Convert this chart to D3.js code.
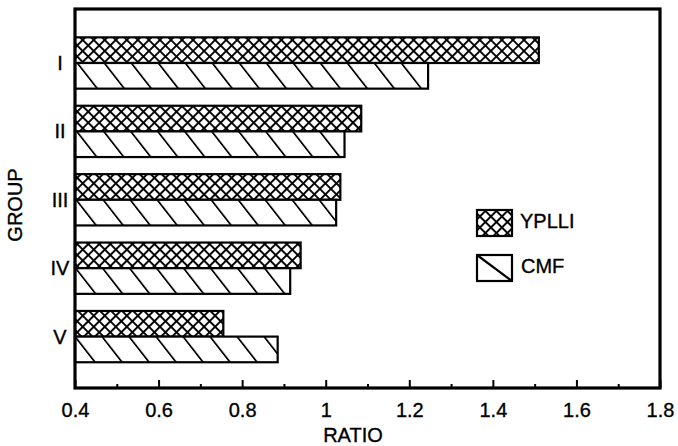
<!DOCTYPE html>
<html>
<head>
<meta charset="utf-8">
<script src="https://cdn.jsdelivr.net/npm/d3@7"></script>
<style>
  body { margin: 0; background: #fff; }
  svg { display: block; font-family: "Liberation Sans", Arial, sans-serif; }
  svg text { stroke: #000; stroke-width: 0.35px; }
</style>
</head>
<body>
<div id="chart"></div>
<script>
// data
const groups = ['I', 'II', 'III', 'IV', 'V'];
const series = ['YPLLI', 'CMF'];
const ypllI = [1.51, 1.085, 1.035, 0.94, 0.755];
const cmf = [1.245, 1.045, 1.025, 0.915, 0.885];
const majorTicks = [0.4, 0.6, 0.8, 1.0, 1.2, 1.4, 1.6, 1.8];
const tickLabels = ['0.4', '0.6', '0.8', '1', '1.2', '1.4', '1.6', '1.8'];
const minorTicks = [0.5, 0.7, 0.9, 1.1, 1.3, 1.5, 1.7];

const width = 678, height = 446;
const plotLeft = 75, plotRight = 660, plotTop = 9, plotBottom = 388;

const svg = d3.select('#chart')
  .append('svg')
  .attr('width', width)
  .attr('height', height);

// patterns
const defs = svg.append('defs');

const cross = defs.append('pattern')
  .attr('id', 'cross')
  .attr('patternUnits', 'userSpaceOnUse')
  .attr('width', 7.8)
  .attr('height', 7.8)
  .attr('patternTransform', 'rotate(45)');
cross.append('rect').attr('width', 7.8).attr('height', 7.8).attr('fill', '#fff');
cross.append('line').attr('x1', 0).attr('y1', 0).attr('x2', 7.8).attr('y2', 0)
  .attr('stroke', '#000').attr('stroke-width', 3.8);
cross.append('line').attr('x1', 0).attr('y1', 0).attr('x2', 0).attr('y2', 7.8)
  .attr('stroke', '#000').attr('stroke-width', 3.8);

const hatch = defs.append('pattern')
  .attr('id', 'hatch')
  .attr('patternUnits', 'userSpaceOnUse')
  .attr('width', 27)
  .attr('height', 10)
  .attr('patternTransform', 'skewX(38)');
hatch.append('rect').attr('width', 27).attr('height', 10).attr('fill', '#fff');
hatch.append('line').attr('x1', 1).attr('y1', -1).attr('x2', 1).attr('y2', 11)
  .attr('stroke', '#000').attr('stroke-width', 2.4);

const fills = { YPLLI: 'url(#cross)', CMF: 'url(#hatch)' };

// scales
const x = d3.scaleLinear().domain([0.4, 1.8]).range([plotLeft, plotRight]);
const y = d3.scaleBand().domain(groups).range([28.8, 370.8])
  .paddingInner(0.25).paddingOuter(0.125);
const ySub = d3.scaleBand().domain(series).range([0, y.bandwidth()]);

const rows = [];
groups.forEach((g, i) => {
  rows.push({ group: g, key: 'YPLLI', value: ypllI[i] });
  rows.push({ group: g, key: 'CMF', value: cmf[i] });
});

// bars
svg.append('g')
  .selectAll('rect')
  .data(rows)
  .enter()
  .append('rect')
  .attr('x', x(0.4))
  .attr('y', d => y(d.group) + ySub(d.key))
  .attr('width', d => x(d.value) - x(0.4))
  .attr('height', ySub.bandwidth())
  .attr('fill', d => fills[d.key])
  .attr('stroke', '#000')
  .attr('stroke-width', 2.2);

// minor ticks
svg.append('g')
  .attr('transform', `translate(0,${plotBottom})`)
  .call(d3.axisBottom(x).tickValues(minorTicks).tickSize(-4).tickFormat(''))
  .call(g => g.select('.domain').remove())
  .call(g => g.selectAll('line').attr('stroke-width', 2));

// major ticks + labels
svg.append('g')
  .attr('transform', `translate(0,${plotBottom})`)
  .call(d3.axisBottom(x).tickValues(majorTicks).tickSize(-8).tickPadding(15)
    .tickFormat((d, i) => tickLabels[i]))
  .call(g => g.select('.domain').remove())
  .call(g => g.selectAll('line').attr('stroke-width', 2))
  .call(g => g.selectAll('text')
    .attr('font-size', 20)
    .attr('font-family', '"Liberation Sans", Arial, sans-serif')
    .attr('fill', '#000'));

// frame
svg.append('rect')
  .attr('x', plotLeft)
  .attr('y', plotTop)
  .attr('width', plotRight - plotLeft)
  .attr('height', plotBottom - plotTop)
  .attr('fill', 'none')
  .attr('stroke', '#000')
  .attr('stroke-width', 3.2);

// group labels
svg.append('g')
  .selectAll('text')
  .data(groups)
  .enter()
  .append('text')
  .attr('x', 60)
  .attr('y', d => y(d) + y.bandwidth() / 2)
  .attr('dy', '0.35em')
  .attr('text-anchor', 'middle')
  .attr('font-size', 20)
  .text(d => d);

// axis titles
svg.append('text')
  .attr('x', 353)
  .attr('y', 442)
  .attr('text-anchor', 'middle')
  .attr('font-size', 20)
  .text('RATIO');

svg.append('text')
  .attr('transform', 'translate(22,205) rotate(-90)')
  .attr('text-anchor', 'middle')
  .attr('font-size', 20)
  .text('GROUP');

// legend
const legend = svg.append('g');
legend.append('rect')
  .attr('x', 477).attr('y', 210).attr('width', 35).attr('height', 26)
  .attr('fill', fills.YPLLI).attr('stroke', '#000').attr('stroke-width', 2.2);
legend.append('text')
  .attr('x', 520).attr('y', 228).attr('font-size', 20).text('YPLLI');

legend.append('rect')
  .attr('x', 477).attr('y', 255).attr('width', 35).attr('height', 26)
  .attr('fill', '#fff').attr('stroke', '#000').attr('stroke-width', 2.2);
legend.append('line')
  .attr('x1', 477).attr('y1', 255).attr('x2', 512).attr('y2', 281)
  .attr('stroke', '#000').attr('stroke-width', 2.2);
legend.append('text')
  .attr('x', 521).attr('y', 273).attr('font-size', 20).text('CMF');
</script>
</body>
</html>
